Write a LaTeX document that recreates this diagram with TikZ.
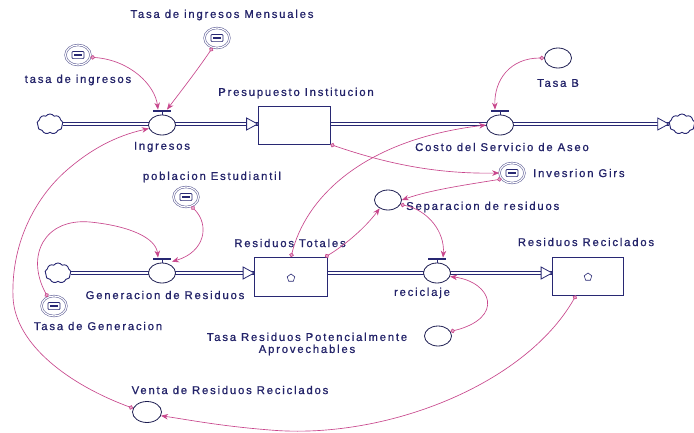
\documentclass[tikz,border=0pt]{standalone}
\usepackage{fontspec}
\setmainfont[LetterSpace=16,FakeBold=0.8]{Liberation Sans}
\usetikzlibrary{shapes.geometric,shapes.symbols,arrows.meta,backgrounds}
\definecolor{navy}{RGB}{40,40,115}
\definecolor{lnk}{RGB}{200,70,140}
\definecolor{txt}{RGB}{35,35,105}
\begin{document}
\begin{tikzpicture}[x=1pt,y=-1pt,
  lbl/.style={text=txt,font=\fontsize{11.3}{13}\selectfont,inner sep=0pt,align=center},
  aux/.style={ellipse,draw=navy!70!black,fill=white,minimum width=27pt,minimum height=20pt,inner sep=0pt,line width=0.8pt},
  conv/.style={ellipse,draw=navy!70,fill=white,double=white,double distance=1.1pt,minimum width=25pt,minimum height=20pt,inner sep=0pt,line width=0.6pt},
  stockbox/.style={rectangle,draw=navy,fill=white,line width=0.8pt,minimum width=72pt,minimum height=38pt,inner sep=0pt},
  src/.style={cloud,cloud puffs=9,cloud puff arc=110,aspect=1.3,draw=navy,fill=white,line width=0.9pt,minimum width=26pt,minimum height=20pt,inner sep=0pt},
  pipe/.style={draw=navy,double=white,double distance=2.2pt,line width=0.8pt},
  lk/.style={draw=lnk,line width=0.65pt,{Circle[length=4.5pt,fill=lnk!45]}-{Stealth[length=7pt,width=5.5pt]}},
  bar/.style={draw=navy,line width=1.8pt},
  hollow/.style={draw=navy,fill=white,line width=0.8pt}
]
\useasboundingbox (0,0) rectangle (694,432);

% ---- sources / sinks
\node[src] (cloudA) at (50,124) {};
\node[src] (cloudB) at (682,124) {};
\node[src] (cloudC) at (58,273) {};

% ---- stocks
\node[stockbox] (P) at (294,125) {};
\node[stockbox,minimum height=39pt,minimum width=73pt] (RT) at (291,277) {};
\node[stockbox,minimum width=71pt] (RR) at (588,276) {};
\node[regular polygon,regular polygon sides=5,draw=navy,line width=0.6pt,minimum size=8pt,inner sep=0pt] (iconRT) at (291,278) {};
\node[regular polygon,regular polygon sides=5,draw=navy,line width=0.6pt,minimum size=8pt,inner sep=0pt] (iconRR) at (588,277) {};

% ---- valves
\node[aux] (vIng) at (162,125) {};
\node[aux] (vCosto) at (500,125) {};
\node[aux] (vGen) at (162,273) {};
\node[aux] (vRec) at (437,273) {};

% ---- auxiliaries
\node[aux] (tasaB) at (558,58) {};
\node[aux] (sep) at (388,200) {};
\node[aux] (tasaRes) at (438,336) {};
\node[aux,minimum width=29pt,minimum height=21pt] (venta) at (147,412) {};

% ---- converters with icon
\node[conv] (tasaIng) at (78,55) {};
\node[conv] (tasaMens) at (217,38) {};
\node[conv] (pobl) at (186,197) {};
\node[conv] (invGirs) at (512,173) {};
\node[conv] (tasaGen) at (54,306) {};
\foreach \n in {tasaIng,tasaMens,pobl,invGirs,tasaGen}{
  \draw[navy,line width=0.7pt,rounded corners=1pt] ([shift={(-6pt,-3.6pt)}]\n.center) rectangle ([shift={(6pt,3.6pt)}]\n.center);
  \fill[navy] ([shift={(-3.6pt,-1.2pt)}]\n.center) rectangle ([shift={(3.6pt,1.2pt)}]\n.center);
}

% ---- pipes (behind)
\begin{pgfonlayer}{background}
\fill[white] (0,0) rectangle (694,432);
\draw[pipe] (cloudA.east) -- (P.west |- cloudA.east);
\draw[pipe] (P.east |- cloudB.west) -- (cloudB.west);
\draw[pipe] (cloudC.east) -- (RT.west |- cloudC.east);
\draw[pipe] (RT.east |- vRec.center) -- (RR.west |- vRec.center);
\end{pgfonlayer}
\draw[hollow] ([shift={(-11pt,6pt)}]P.west |- cloudA.east) -- (P.west |- cloudA.east) -- ([shift={(-11pt,-6pt)}]P.west |- cloudA.east) -- cycle;
\draw[hollow] ([shift={(-11pt,6pt)}]cloudB.west) -- (cloudB.west) -- ([shift={(-11pt,-6pt)}]cloudB.west) -- cycle;
\draw[hollow] ([shift={(-11pt,6pt)}]RT.west |- cloudC.east) -- (RT.west |- cloudC.east) -- ([shift={(-11pt,-6pt)}]RT.west |- cloudC.east) -- cycle;
\draw[hollow] ([shift={(-11pt,6pt)}]RR.west |- vRec.center) -- (RR.west |- vRec.center) -- ([shift={(-11pt,-6pt)}]RR.west |- vRec.center) -- cycle;

% ---- valve handles
\foreach \v in {vIng,vCosto,vGen,vRec}{
  \draw[navy,line width=1pt] (\v.north) -- ([shift={(0pt,4pt)}]\v.north);
  \draw[bar] ([shift={(-9pt,4pt)}]\v.north) -- ([shift={(9pt,4pt)}]\v.north);
}
\coordinate (vIngTopL) at ([shift={(-4pt,5pt)}]vIng.north);
\coordinate (vIngTopR) at ([shift={(5pt,5pt)}]vIng.north);
\coordinate (vCostoTop) at ([shift={(-5pt,5pt)}]vCosto.north);
\coordinate (vGenTopL) at ([shift={(-4pt,5pt)}]vGen.north);
\coordinate (vGenTopR) at ([shift={(10pt,1pt)}]vGen.north);
\coordinate (vRecTop) at ([shift={(6pt,5pt)}]vRec.north);
\coordinate (rrOut) at ([shift={(-12pt,0pt)}]RR.south);
\coordinate (rtOut) at ([shift={(34pt,0pt)}]RT.south);

% ---- labels
\node[lbl] (lMens) at (222,15) {Tasa de ingresos Mensuales};
\node[lbl] (lTasaIng) at (78,80) {tasa de ingresos};
\node[lbl] (lP) at (296,93) {Presupuesto Institucion};
\node[lbl] (lIng) at (162,147) {Ingresos};
\node[lbl] (lCosto) at (502,147) {Costo del Servicio de Aseo};
\node[lbl] (lTasaB) at (558,83) {Tasa B};
\node[lbl,anchor=west] (lInv) at (533,173) {Invesrion Girs};
\node[lbl,anchor=west] (lSep) at (406,207) {Separacion de residuos};
\node[lbl] (lRR) at (586,242) {Residuos Reciclados};
\node[lbl] (lRT) at (290,243) {Residuos Totales};
\node[lbl] (lRec) at (422,293) {reciclaje};
\node[lbl] (lPobl) at (212,177) {poblacion Estudiantil};
\node[lbl] (lGen) at (165,295) {Generacion de Residuos};
\node[lbl] (lTasaGen) at (98,326) {Tasa de Generacion};
\node[lbl] (lTasaRes) at (307,344) {Tasa Residuos Potencialmente\\[-1pt]Aprovechables};
\node[lbl] (lVenta) at (230,390) {Venta de Residuos Reciclados};

% ---- links
\draw[lk] (tasaIng.-10) .. controls (130,60) and (155,85) .. (vIngTopL);
\draw[lk] (tasaMens.-115) .. controls (196,72) and (178,95) .. (vIngTopR);
\draw[lk] (tasaB.west) .. controls (510,58) and (494,80) .. (vCostoTop);
\draw[lk] (P.south east) .. controls (390,165) and (440,174) .. (invGirs.west);
\draw[lk] (RT.north) .. controls (305,200) and (360,140) .. (vCosto.west);
\draw[lk] (rtOut |- RT.north) .. controls (345,245) and (365,228) .. (sep.-135);
\draw[lk] (invGirs.-150) .. controls (465,185) and (430,190) .. (sep.east);
\draw[lk] (sep.-20) .. controls (428,210) and (445,232) .. (vRecTop);
\draw[lk] (tasaRes.20) .. controls (505,318) and (492,282) .. (vRec.-15);
\draw[lk] (pobl.-60) .. controls (210,225) and (205,252) .. (vGenTopR);
\draw[lk] (tasaGen.125) .. controls (25,255) and (45,218) .. (90,222) .. controls (130,226) and (156,238) .. (vGenTopL);
\draw[lk] (rrOut) .. controls (525,385) and (385,440) .. (270,430) .. controls (220,426) and (190,420) .. (venta.-15);
\draw[lk] (venta.165) .. controls (70,385) and (15,345) .. (13,297) .. controls (11,240) and (38,195) .. (67,170) .. controls (90,150) and (115,136) .. (vIng.195);
\end{tikzpicture}
\end{document}
